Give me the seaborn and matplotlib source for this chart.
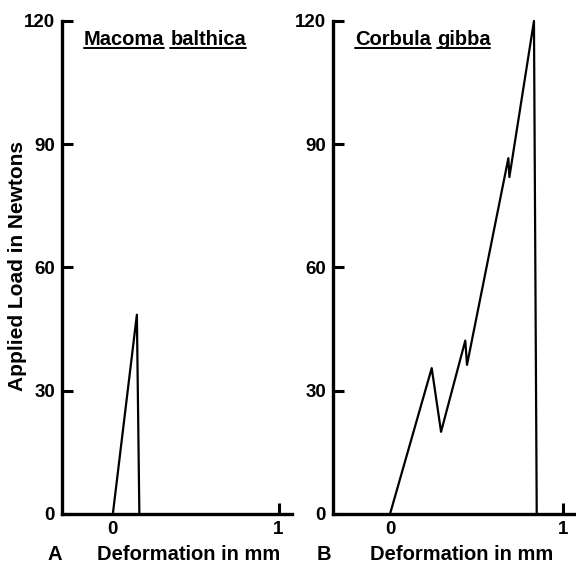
import matplotlib
matplotlib.use("Agg")
import matplotlib.pyplot as plt
from matplotlib.lines import Line2D
import seaborn as sns
import pandas as pd

# Load-deformation curves
macoma_def = [0.0, 0.145, 0.16]
macoma_load = [0.0, 48.5, 0.0]
corbula_def = [0.0, 0.241, 0.295, 0.435, 0.445, 0.684, 0.69, 0.832, 0.848]
corbula_load = [0.0, 35.5, 20.0, 42.2, 36.3, 86.6, 82.0, 120.0, 0.0]

yticks = [0, 30, 60, 90, 120]
xticks = [0, 1]

sns.set_style("ticks")
plt.rcParams['font.family'] = ['Liberation Sans', 'DejaVu Sans']
plt.rcParams['font.weight'] = 'bold'
for k in ['text.color', 'axes.labelcolor', 'xtick.color', 'ytick.color', 'axes.edgecolor']:
    plt.rcParams[k] = 'black'

fig = plt.figure(figsize=(5.76, 5.65), dpi=100)
ax1 = fig.add_axes([0.1076, 0.0903, 0.399, 0.8726])
ax2 = fig.add_axes([0.578, 0.0903, 0.422, 0.8726])

panels = [
    (ax1, macoma_def, macoma_load, ['Macoma', 'balthica'], (-0.307, 1.08), 0.095, 0.552),
    (ax2, corbula_def, corbula_load, ['Corbula', 'gibba'], (-0.33, 1.075), 0.09, 0.53),
]

title_words = []
for ax, xs, ys, words, xlim, tx, lx in panels:
    df = pd.DataFrame({'x': xs, 'y': ys})
    sns.lineplot(data=df, x='x', y='y', sort=False, estimator=None,
                 color='black', linewidth=1.6, ax=ax)
    for ln in ax.get_lines():
        ln.set_clip_on(False)
    ax.set_xlim(*xlim)
    ax.set_ylim(0, 120)
    ax.set_xticks(xticks)
    ax.set_yticks(yticks)
    ax.tick_params(direction='in', length=8, width=2.2, labelsize=13.5, pad=5)
    # no tick mark at x = 0 in the original, only the label
    ax.xaxis.get_major_ticks()[0].tick1line.set_visible(False)
    for lab in ax.get_xticklabels() + ax.get_yticklabels():
        lab.set_fontweight('bold')
    for s in ['left', 'bottom']:
        ax.spines[s].set_linewidth(2.4)
    sns.despine(ax=ax)
    ax.set_xlabel('')
    ax.set_ylabel('')
    t1 = ax.text(tx, 0.963, words[0], transform=ax.transAxes, fontsize=14.5,
                 fontweight='bold', ha='left', va='center')
    title_words.append((ax, t1, words[1]))
    ax.text(lx, -0.083, 'Deformation in mm', transform=ax.transAxes,
            fontsize=14.5, fontweight='bold', ha='center', va='center')

# second word placed after the first, then underline each word
fig.canvas.draw()
r = fig.canvas.get_renderer()
inv = fig.transFigure.inverted()
texts = []
for ax, t1, w2 in title_words:
    bb = t1.get_window_extent(r)
    x0, _ = ax.transAxes.inverted().transform((bb.x1 + 6, 0))
    t2 = ax.text(x0, 0.963, w2, transform=ax.transAxes, fontsize=14.5,
                 fontweight='bold', ha='left', va='center')
    texts += [t1, t2]
fig.canvas.draw()
for t in texts:
    bb = t.get_window_extent(r)
    (fx0, fy0), (fx1, _) = inv.transform([(bb.x0, bb.y0 + 1), (bb.x1, bb.y0)])
    fig.add_artist(Line2D([fx0, fx1], [fy0, fy0], transform=fig.transFigure,
                          color='black', linewidth=1.4))

fig.text(47 / 576, 1 - 555 / 565, 'A', fontsize=14.5, fontweight='bold', ha='left', va='center')
fig.text(317 / 576, 1 - 555 / 565, 'B', fontsize=14.5, fontweight='bold', ha='left', va='center')
fig.text(18 / 576, 1 - 266 / 565, 'Applied Load in Newtons', rotation=90,
         fontsize=15, fontweight='bold', ha='center', va='center')

plt.savefig('out.png', dpi=100)
